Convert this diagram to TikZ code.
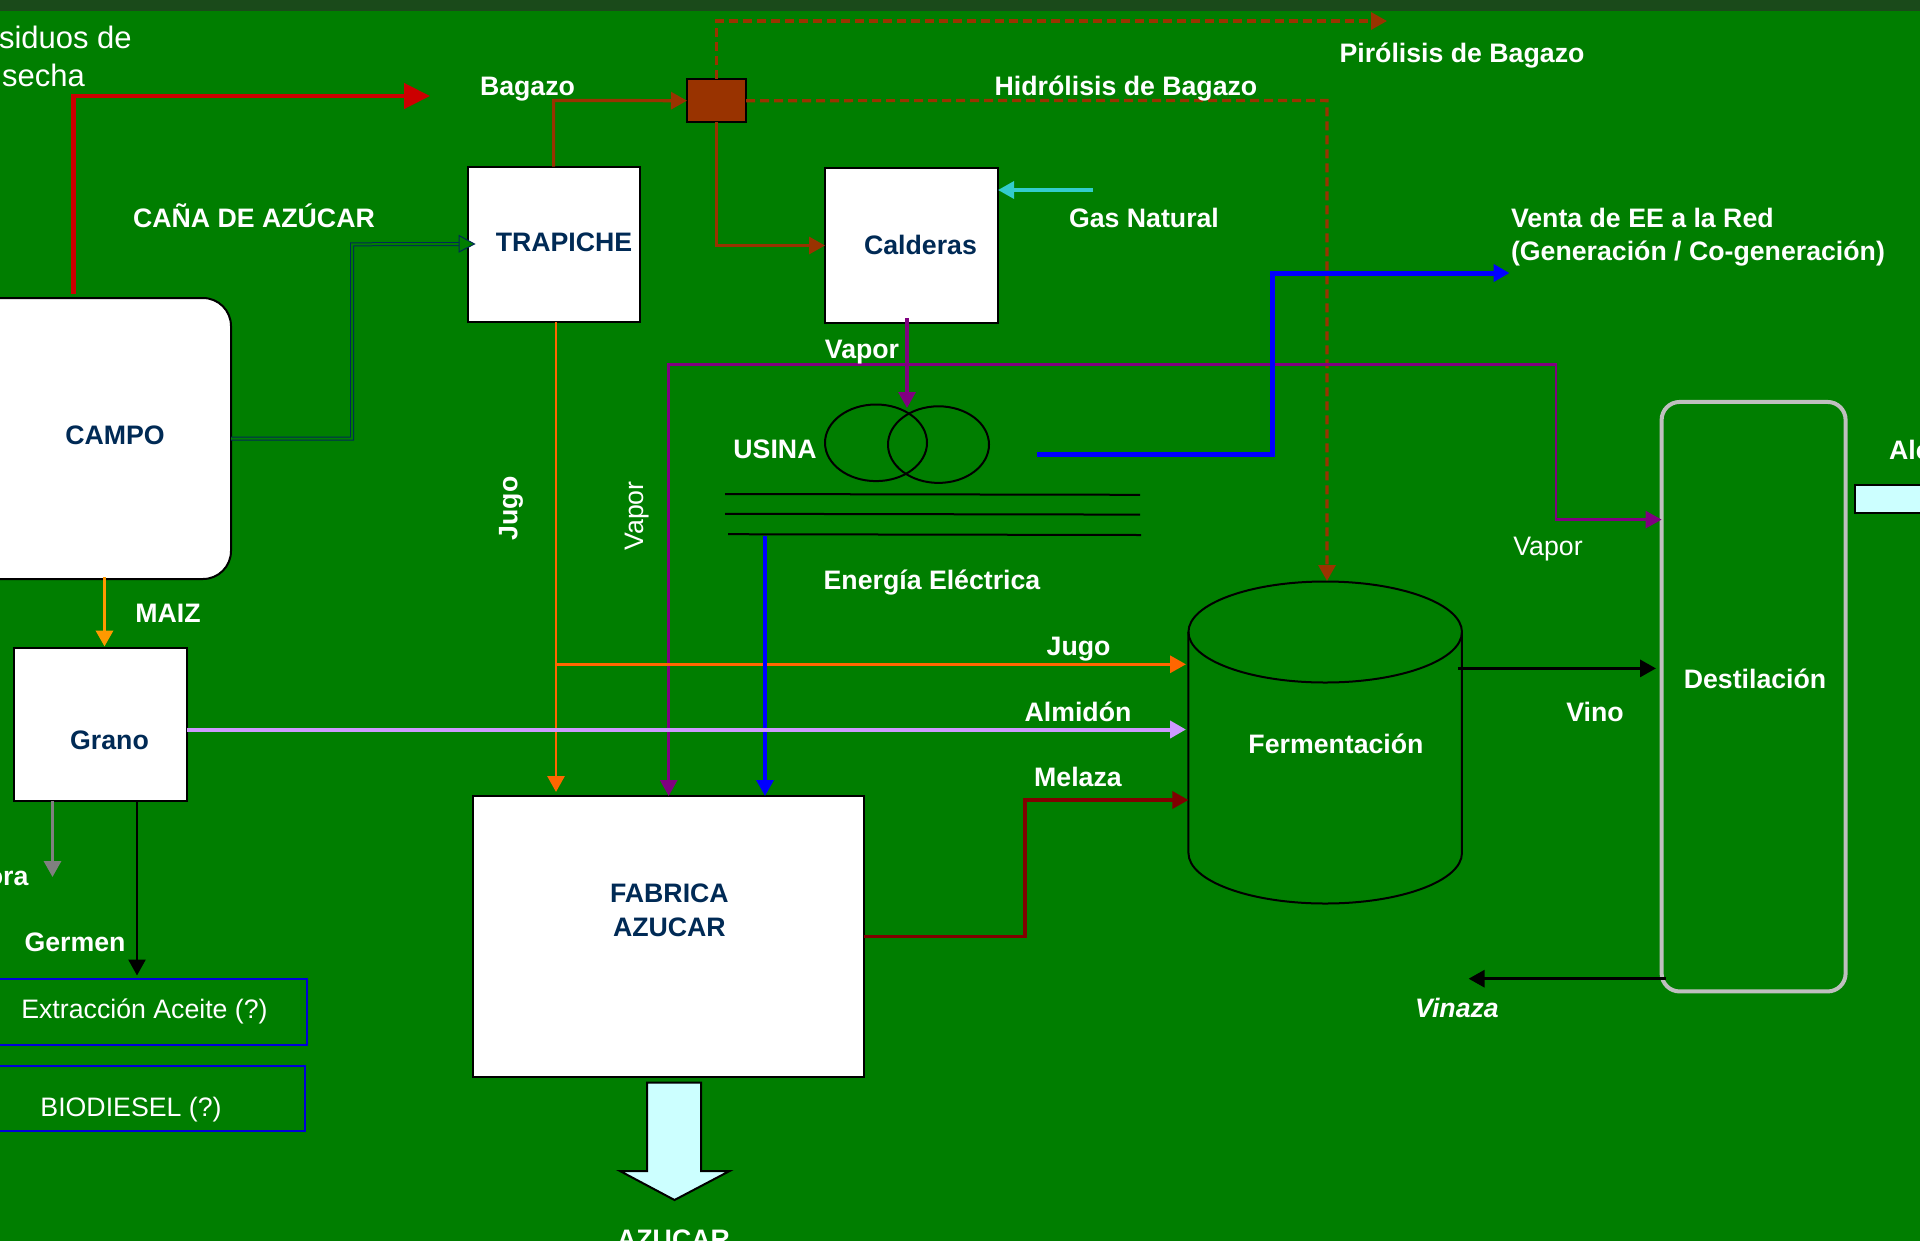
\documentclass[tikz,border=0pt]{standalone}
\usepackage{fontspec}
\setmainfont{Liberation Sans}
\usetikzlibrary{arrows.meta,shapes.geometric}
\definecolor{flgreen}{HTML}{007E00}
\definecolor{flband}{HTML}{1A4A1A}
\definecolor{flnavy}{HTML}{002A55}
\definecolor{flbrown}{HTML}{993300}
\definecolor{flpurple}{HTML}{800080}
\definecolor{florange}{HTML}{FF6600}
\definecolor{flmaiz}{HTML}{FF9900}
\definecolor{fllilac}{HTML}{CC99FF}
\definecolor{flcyan}{HTML}{33CCCC}
\definecolor{flice}{HTML}{CCFFFF}
\definecolor{flmelaza}{HTML}{800000}

\begin{document}
\begin{tikzpicture}[
    x=1pt,y=-1pt,
    flbox/.style={draw=black,fill=white,line width=2pt,inner sep=0pt,outer sep=0pt},
    flblue/.style={draw=blue!85!black,line width=2pt,inner sep=0pt,outer sep=0pt},
    flname/.style={text=flnavy,font=\fontsize{26.7}{33.5}\selectfont\bfseries,align=center},
    fllabel/.style={text=white,font=\fontsize{26.7}{33.5}\selectfont\bfseries,align=center},
    flplain/.style={text=white,font=\fontsize{26.7}{33.5}\selectfont,align=center},
    flarrow/.style={-{Triangle[length=16pt,width=17pt]},line width=3.2pt},
    flwire/.style={draw=black,line width=2pt},
    flloop/.style={draw=black,line width=2pt,ellipse,inner sep=0pt,outer sep=0pt}
]
\useasboundingbox (0,0) rectangle (1920,1240);
\clip (-3,-3) rectangle (1923,1243);
\fill[flgreen] (-3,-3) rectangle (1923,1243);
\fill[flband] (-3,-3) rectangle (1923,10.7);

% boxes
\node[flbox,rounded corners=28pt,minimum width=271pt,minimum height=281pt] (campo) at (95.5,438.5) {};
\node[flbox,minimum width=172pt,minimum height=155.5pt] (trapiche) at (554,244.3) {};
\node[flbox,minimum width=173pt,minimum height=155pt] (calderas) at (911.5,245.5) {};
\node[flbox,minimum width=173pt,minimum height=153.5pt] (grano) at (100.5,724.3) {};
\node[flbox,minimum width=390.5pt,minimum height=281pt] (fabrica) at (668.7,936.5) {};
\node[draw=black,fill=flbrown,line width=2pt,inner sep=0pt,outer sep=0pt,
    minimum width=59pt,minimum height=43.5pt] (splitter) at (716.5,100.7) {};
\node[inner sep=0pt,outer sep=0pt,minimum width=273.5pt,minimum height=322.4pt] (ferment) at (1325.2,742.2) {};
\node[draw=black!25,line width=4pt,rounded corners=18pt,inner sep=0pt,outer sep=0pt,
    minimum width=184pt,minimum height=589.5pt] (destila) at (1753.6,696.7) {};
\node[flblue,minimum width=346.6pt,minimum height=66pt] (aceite) at (133.3,1011.7) {};
\node[flblue,minimum width=345pt,minimum height=65.3pt] (biodiesel) at (132.5,1098.3) {};
\node[draw=black,fill=flice,line width=2pt,inner sep=0pt,outer sep=0pt,
    minimum width=105pt,minimum height=28pt] (alcohol) at (1907.5,498.8) {};
\node[flloop,minimum width=102pt,minimum height=76.6pt] (usinaA) at (876,442.8) {};
\node[flloop,minimum width=101pt,minimum height=76.6pt] (usinaB) at (938.5,444.6) {};

% tank
\draw[draw=black,line width=2pt] (1325.2,632) ellipse [x radius=136.75pt,y radius=50.5pt];
\draw[draw=black,line width=2pt] (ferment.west |- 0,632) -- (ferment.west |- 0,853)
    arc[start angle=180,end angle=360,x radius=136.75pt,y radius=50.5pt] -- (ferment.east |- 0,632);

% free ends
\coordinate (cana) at (352,244);
\coordinate (residuo) at (73.5,96);
\coordinate (pirolisis) at (1387,21);
\coordinate (hidrolisis) at (1327,100.4);
\coordinate (bagazoIn) at (553.6,100.4);
\coordinate (salida) at (1037,454.5);
\coordinate (red) at (1272.6,273);
\coordinate (vaporTop) at (668.7,364.4);
\coordinate (vaporEnd) at (1556,519.6);
\coordinate (melaza) at (1025,800);

% wires of the plant
\draw[flwire] (725,494) -- (1140,494.8);
\draw[flwire] (725,513.8) -- (1140,514.6);
\draw[flwire] (728,534.2) -- (1141,535);

% connectors
\draw[draw=red!80!black,line width=4.5pt,-{Triangle[length=26pt,width=25pt]}]
    (73.5,293.7) -- (residuo) -- (430,96);
\draw[draw=flnavy,line width=1pt,double=flgreen,double distance=2pt]
    (campo.east) -- (cana |- campo.east) -- (cana |- trapiche.west) -- (460,244);
\draw[draw=flnavy,fill=flgreen,line width=1pt] (459,235.5) -- (474.5,244) -- (459,252) -- cycle;
\draw[flarrow,draw=flbrown] (bagazoIn |- trapiche.north) -- (bagazoIn) -- (splitter.west);
\draw[flarrow,draw=flbrown,dash pattern=on 9pt off 5pt]
    (splitter.north) -- (splitter.north |- pirolisis) -- (pirolisis);
\draw[flarrow,draw=flbrown,dash pattern=on 9pt off 5pt]
    (splitter.east) -- (hidrolisis) -- (hidrolisis |- ferment.north);
\draw[flarrow,draw=flbrown] (splitter.south) -- (splitter.south |- calderas.west) -- (calderas.west);
\draw[flarrow,draw=flcyan] (1093,190) -- (calderas.east |- 0,190);
\draw[flarrow,draw=flpurple] (907,318) -- (907,408);
\draw[draw=flpurple,line width=2.8pt,{Triangle[length=16pt,width=17pt]}-{Triangle[length=16pt,width=17pt]}]
    (fabrica.north) -- (vaporTop) -- (vaporEnd |- vaporTop) -- (vaporEnd) -- (destila.west |- vaporEnd);
\draw[draw=blue,line width=5pt,-{Triangle[length=16pt,width=17pt]}]
    (salida) -- (red |- salida) -- (red) -- (1509.5,273);
\draw[flarrow,draw=florange,line width=2.8pt] (556,322) -- (556,792);
\draw[flarrow,draw=florange] (556,664.3) -- (1186,664.3);
\draw[flarrow,draw=blue] (765,536) -- (765,796);
\draw[flarrow,draw=fllilac,line width=4pt] (grano.east |- 0,729.5) -- (1186,729.5);
\draw[flarrow,draw=flmelaza] (fabrica.east) -- (melaza |- fabrica.east) -- (melaza) -- (ferment.west |- melaza);
\draw[flarrow,draw=flmaiz,line width=3.5pt] (104.5,577) -- (104.5,646.5);
\draw[flarrow,draw=black!50] (52.5,801) -- (52.5,877);
\draw[flarrow,draw=black,line width=2.6pt] (137,801) -- (137,975.5);
\draw[flarrow,draw=black] (1458,668.4) -- (1656,668.4);
\draw[flarrow,draw=black] (1665.7,978.7) -- (1468.6,978.7);

% big arrow out of the factory
\draw[draw=black,fill=flice,line width=2pt,line join=miter]
    (647,1082.6) -- (701,1082.6) -- (701,1171) -- (729.6,1171) -- (674.5,1200)
    -- (620,1171) -- (647,1171) -- cycle;

% names
\node[flname] (campoT) at (115,435) {CAMPO};
\node[flname] (trapicheT) at (564,242.5) {TRAPICHE};
\node[flname] (calderasT) at (920.5,244.5) {Calderas};
\node[flname] (granoT) at (109.5,740) {Grano};
\node[flname] (fabricaT) at (669.4,910.3) {FABRICA\\AZUCAR};
\node[fllabel] (fermentT) at (1336,744) {Fermentación};
\node[fllabel] (destilaT) at (1755,679) {Destilación};

% labels
\node[flplain,font=\fontsize{31}{38}\selectfont,align=left,anchor=north west] (residuos) at (-4.5,22) {siduos de\\\hspace*{3pt}secha};
\node[fllabel] (bagazo) at (527.5,89) {Bagazo};
\node[fllabel] (canaT) at (254,216) {CAÑA DE AZÚCAR};
\node[fllabel] (hidroT) at (1126,88.8) {Hidrólisis de Bagazo};
\node[fllabel] (piroT) at (1462,56) {Pirólisis de Bagazo};
\node[fllabel] (gas) at (1144,218.4) {Gas Natural};
\node[fllabel,align=left,anchor=west] (venta) at (1507.5,237) {Venta de EE a la Red\\(Generación / Co-generación)};
\node[fllabel] (vaporA) at (862,351.6) {Vapor};
\node[fllabel] (usina) at (775,449.5) {USINA};
\node[fllabel] (energia) at (932,583) {Energía Eléctrica};
\node[fllabel,rotate=90] (jugoA) at (511,508.5) {Jugo};
\node[flplain,rotate=90] (vaporB) at (637.5,516) {Vapor};
\node[fllabel] (maiz) at (168,613) {MAIZ};
\node[fllabel,anchor=east] (fibra) at (32,878) {ora};
\node[fllabel] (germen) at (75,942.7) {Germen};
\node[flplain] (aceiteT) at (144.5,1011) {Extracción Aceite (?)};
\node[flplain] (biodieselT) at (131,1110) {BIODIESEL (?)};
\node[fllabel,anchor=base] (azucar) at (673.5,1248) {AZUCAR};
\node[fllabel] (jugoB) at (1078.6,649.5) {Jugo};
\node[fllabel] (almidon) at (1078,712) {Almidón};
\node[fllabel] (melazaT) at (1078,776.5) {Melaza};
\node[fllabel] (vino) at (1595,711.7) {Vino};
\node[flplain] (vaporC) at (1548,549.5) {Vapor};
\node[fllabel,font=\fontsize{26.7}{33.5}\selectfont\bfseries\itshape] (vinaza) at (1457,1008) {Vinaza};
\node[fllabel,anchor=west] (alc) at (1885.5,449.6) {Alc};
\end{tikzpicture}
\end{document}
